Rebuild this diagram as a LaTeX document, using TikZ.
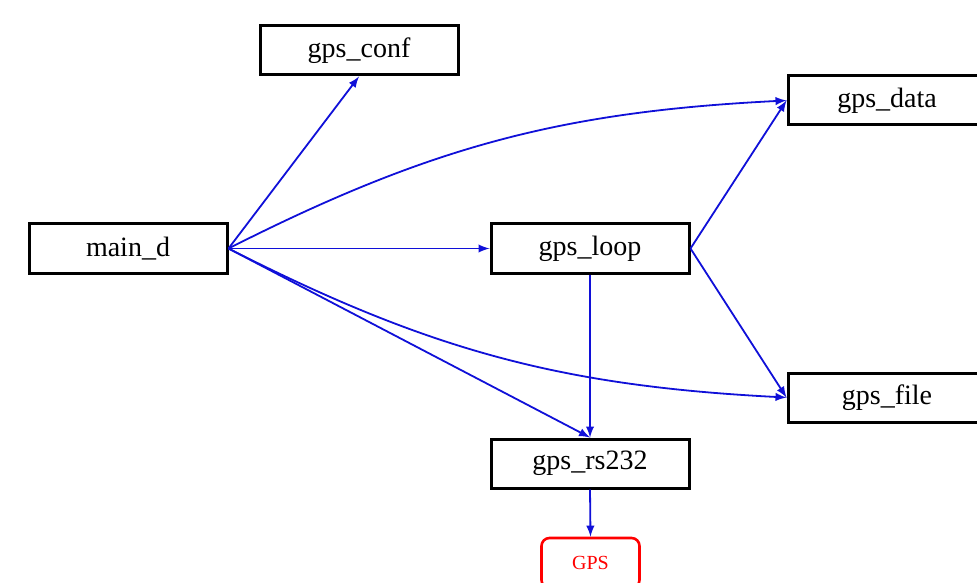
\documentclass[tikz,border=0pt]{standalone}
\usepackage{fontspec}
\setmainfont{Liberation Serif}
\usepackage{xcolor}
\usepackage{tikz}
\usetikzlibrary{arrows, positioning}
\definecolor{edgeblue}{HTML}{1010D8}
\definecolor{gpsred}{HTML}{FF0000}

\tikzset{
    modbox/.style={draw=black, line width=1.5pt, minimum width=99pt, minimum height=24.5pt,
        inner sep=0pt, font=\fontsize{14}{17}\selectfont},
    devbox/.style={draw=gpsred, text=gpsred, line width=1.3pt, rounded corners=4pt,
        minimum width=49pt, minimum height=25pt, inner sep=0pt, font=\fontsize{10}{12}\selectfont},
    link/.style={draw=edgeblue, line width=0.9pt, -latex}
}

\begin{document}
\begin{tikzpicture}[x=0.5pt, y=-0.5pt]
        \useasboundingbox (0,0) rectangle (977,582);
        % Modules
        \node[modbox] (conf) at (359,50.5) {gps\_conf};
        \node[modbox] (main) at (128,248.5) {main\_d};
        \node[modbox] (loop) at (590,248.5) {gps\_loop};
        \node[modbox] (data) at (887,100.5) {gps\_data};
        \node[modbox] (file) at (887,397.5) {gps\_file};
        \node[modbox] (rs) at (590,463.5) {gps\_rs232};
        \node[devbox] (gps) at (590.5,563) {GPS};

        % Calls
        \draw[link] (main.east) -- (conf.south);
        \draw[link] (main.east) to[bend left=12] (data.west);
        \draw[link] (main.east) -- (loop.west);
        \draw[link] (main.east) to[bend right=12] (file.west);
        \draw[link] (main.east) -- (rs.north);
        \draw[link] (loop.east) -- (data.west);
        \draw[link] (loop.east) -- (file.west);
        \draw[link] (loop.south) -- (rs.north);
        \draw[link] (rs.south) -- (gps.north);
    \end{tikzpicture}
\end{document}
